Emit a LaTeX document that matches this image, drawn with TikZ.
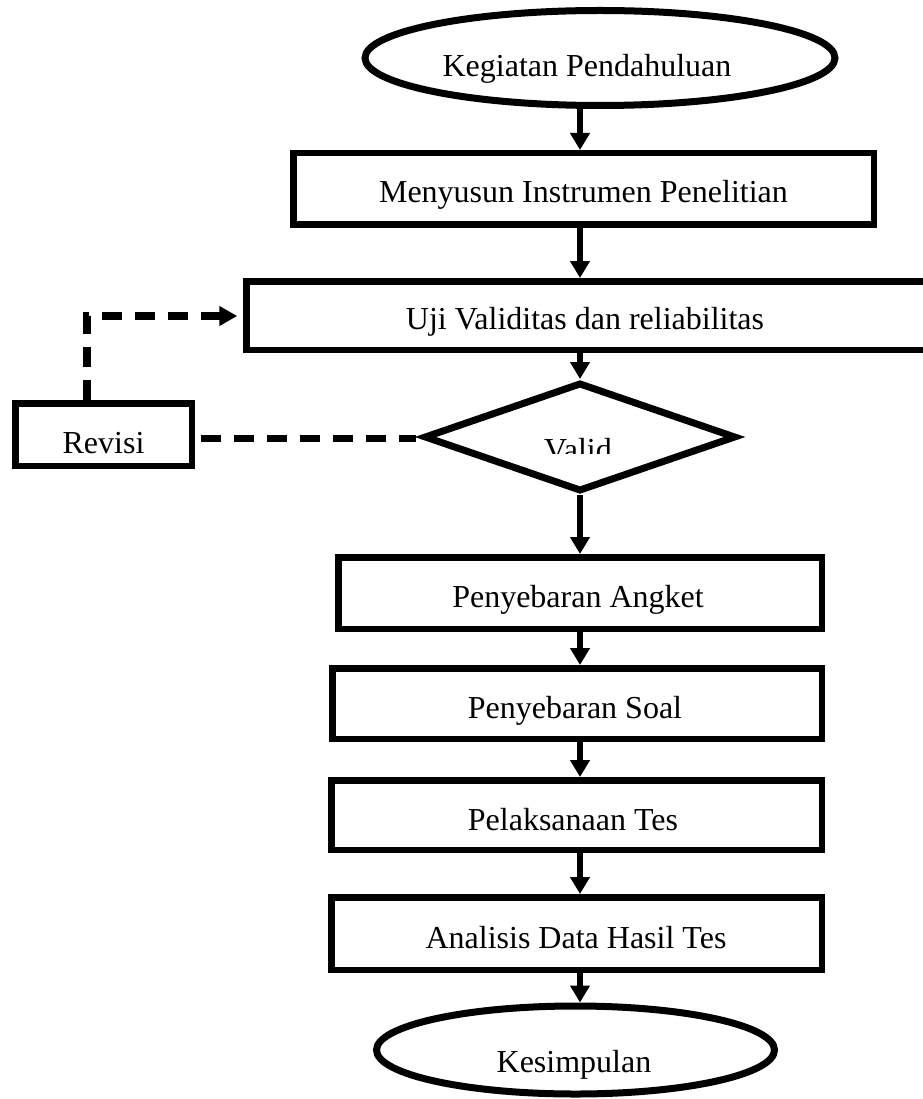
\documentclass[tikz,border=0pt]{standalone}
\usepackage{fontspec}
\setmainfont{Liberation Serif}
\usetikzlibrary{arrows.meta,shapes.geometric,calc}
\begin{document}
\begin{tikzpicture}[x=1pt,y=-1pt,
  boxst/.style={draw=black,line width=6.5pt,rectangle,inner sep=0pt,fill=white},
  ellst/.style={draw=black,line width=7pt,ellipse,inner sep=0pt,fill=white},
  diast/.style={draw=black,line width=7pt,diamond,inner sep=0pt,fill=white},
  lbl/.style={anchor=base,inner sep=0pt,font=\fontsize{32}{38}\selectfont},
  flow/.style={line width=6.5pt,-{Triangle[length=17pt,width=19pt]}},
  back/.style={line width=7.5pt,dash pattern=on 20pt off 13pt}]
\useasboundingbox (0,0) rectangle (922,1099);
\fill[white] (0,0) rectangle (922,1099);
\coordinate (col) at (580,0);
% shapes
\node[ellst,minimum width=470pt,minimum height=95pt] (start) at (600,58) {};
\node[boxst,minimum width=580.5pt,minimum height=71.5pt] (menyusun) at (583.5,189) {};
\node[boxst,minimum width=700pt,minimum height=68.5pt] (uji) at (596.5,315.5) {};
\node[diast,minimum width=312pt,minimum height=109pt] (valid) at (580,437) {};
\node[boxst,minimum width=176.5pt,minimum height=62.5pt] (revisi) at (103.5,434.5) {};
\node[boxst,minimum width=483.5pt,minimum height=71.5pt] (angket) at (580,593) {};
\node[boxst,minimum width=489.5pt,minimum height=70.5pt] (soal) at (577,703.5) {};
\node[boxst,minimum width=490.5pt,minimum height=69.5pt] (tes) at (576.5,815) {};
\node[boxst,minimum width=490.5pt,minimum height=72.5pt] (analisis) at (576.5,933.5) {};
\node[ellst,minimum width=398pt,minimum height=88pt] (akhir) at (575.5,1050) {};
% texts
\node[lbl] (t1) at (587,77) {Kegiatan Pendahuluan};
\node[lbl] (t2) at (583.5,203) {Menyusun Instrumen Penelitian};
\node[lbl] (t3) at (585,329.5) {Uji Validitas dan reliabilitas};
\node[lbl] (t4) at (103.5,453) {Revisi};
\node[lbl] (t5) at (578,607) {Penyebaran Angket};
\node[lbl] (t6) at (575,718) {Penyebaran Soal};
\node[lbl] (t7) at (573,830) {Pelaksanaan Tes};
\node[lbl] (t8) at (576,948) {Analisis Data Hasil Tes};
\node[lbl] (t9) at (574,1072) {Kesimpulan};
\begin{scope}
  \clip (500,420) rectangle (660,453);
  \node[lbl] (tv) at (578,460) {Valid};
\end{scope}
% flow arrows
\draw[flow] (start.south -| col) -- (menyusun.north -| col);
\draw[flow] (menyusun.south -| col) -- (uji.north -| col);
\draw[flow] (uji.south -| col) -- (valid.north -| col);
\draw[flow] (valid.south -| col) -- (angket.north -| col);
\draw[flow] (angket.south -| col) -- (soal.north -| col);
\draw[flow] (soal.south -| col) -- (tes.north -| col);
\draw[flow] (tes.south -| col) -- (analisis.north -| col);
\draw[flow] (analisis.south -| col) -- (akhir.north -| col);
% revision loop
\coordinate (corner) at (87,316);
\draw[back,-{Triangle[length=18pt,width=19pt]},shorten >=6pt] (revisi.north -| corner) -- (corner) -- (uji.west |- corner);
\draw[back,shorten <=6pt,shorten >=5pt] (revisi.east) ++(0,4) coordinate (rvE) -- (rvE -| valid.west);
\end{tikzpicture}
\end{document}
